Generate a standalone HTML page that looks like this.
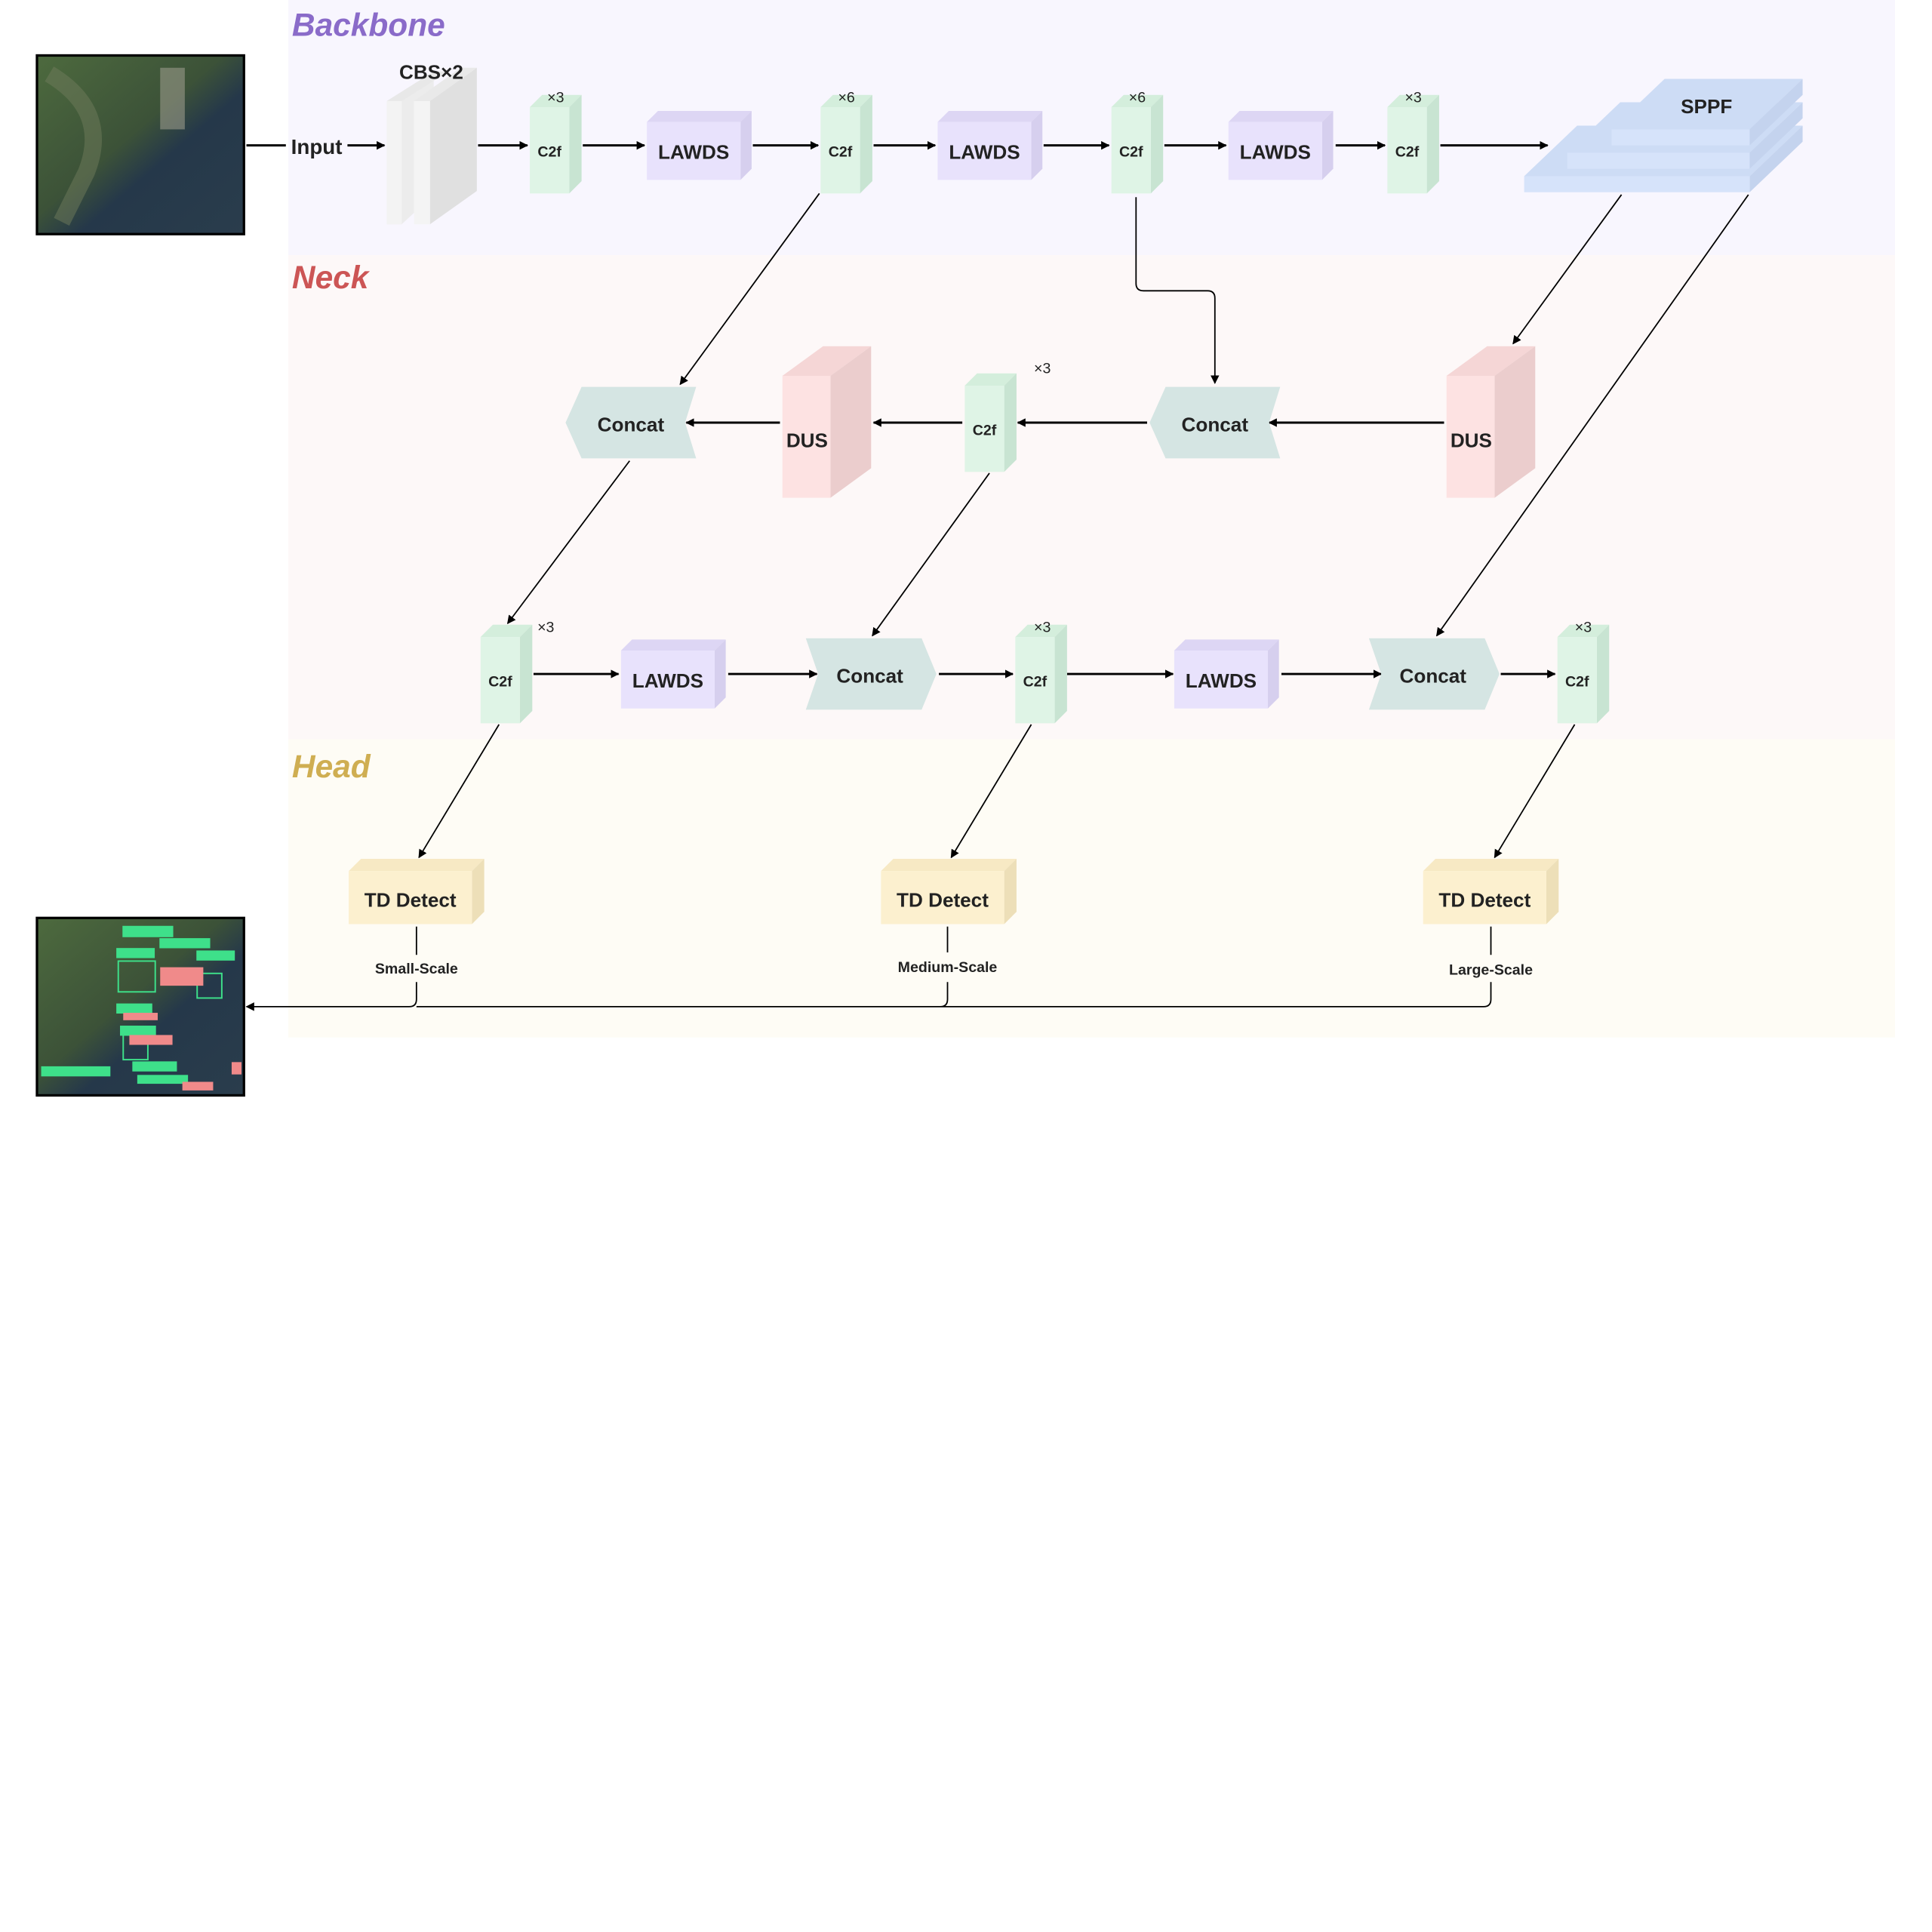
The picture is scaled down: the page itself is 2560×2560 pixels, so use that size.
<!DOCTYPE html>
<html><head><meta charset="utf-8"><style>html,body{margin:0;padding:0;background:#fff}svg{display:block}text{font-family:"Liberation Sans",sans-serif;font-weight:bold;fill:#222}</style></head>
<body>
<svg width="2560" height="2560" viewBox="0 0 1568 1568" xmlns="http://www.w3.org/2000/svg">
<defs>
<marker id="a" viewBox="0 0 10 10" refX="9" refY="5" markerWidth="7" markerHeight="7" orient="auto-start-reverse" markerUnits="userSpaceOnUse"><path d="M0,0L10,5L0,10z" fill="#000"/></marker>
<linearGradient id="img" x1="0" y1="0" x2="1" y2="1"><stop offset="0" stop-color="#4d6a3e"/><stop offset="0.45" stop-color="#3c5238"/><stop offset="0.6" stop-color="#25384a"/><stop offset="1" stop-color="#2a3d4c"/></linearGradient>
</defs>
<rect x="234" y="0" width="1304" height="207" fill="#f8f6fe"/>
<rect x="234" y="207" width="1304" height="393" fill="#fdf8f8"/>
<rect x="234" y="600" width="1304" height="242" fill="#fefcf5"/>
<text x="237" y="29" font-size="26" font-style="italic" style="fill:#8a6bc9">Backbone</text>
<text x="237" y="234" font-size="26" font-style="italic" style="fill:#cc5555">Neck</text>
<text x="237" y="631" font-size="26" font-style="italic" style="fill:#cfae52">Head</text>

<rect x="30" y="45" width="168" height="145" fill="url(#img)" stroke="#000" stroke-width="2"/>
<path d="M40,60 Q90,90 70,140 L50,180" stroke="#6f7c5c" stroke-width="14" fill="none" opacity="0.5"/>
<rect x="130" y="55" width="20" height="50" fill="#9a9a8a" opacity="0.6"/>
<rect x="30" y="745" width="168" height="144" fill="url(#img)" stroke="#000" stroke-width="2"/>
<g fill="none" stroke="#3ee08a" stroke-width="1.2">
<rect x="100" y="752" width="40" height="8" fill="#3ee08a"/><rect x="95" y="770" width="30" height="7" fill="#3ee08a"/><rect x="130" y="762" width="40" height="7" fill="#3ee08a"/><rect x="160" y="772" width="30" height="7" fill="#3ee08a"/><rect x="95" y="815" width="28" height="7" fill="#3ee08a"/><rect x="98" y="833" width="28" height="7" fill="#3ee08a"/><rect x="108" y="862" width="35" height="7" fill="#3ee08a"/><rect x="112" y="873" width="40" height="6" fill="#3ee08a"/><rect x="34" y="866" width="55" height="7" fill="#3ee08a"/>
<rect x="96" y="780" width="30" height="25"/><rect x="160" y="790" width="20" height="20"/><rect x="100" y="840" width="20" height="20"/></g>
<g fill="#f08a8a"><rect x="130" y="785" width="35" height="15"/><rect x="100" y="822" width="28" height="6"/><rect x="105" y="840" width="35" height="8"/><rect x="148" y="878" width="25" height="7"/><rect x="188" y="862" width="8" height="10"/></g>

<g fill="none" stroke="#000" stroke-width="1.8">
<line x1="200" y1="118" x2="232" y2="118"/>
<line x1="282" y1="118" x2="312" y2="118" marker-end="url(#a)"/>
<line x1="388" y1="118" x2="428" y2="118" marker-end="url(#a)"/>
<line x1="473" y1="118" x2="523" y2="118" marker-end="url(#a)"/>
<line x1="611" y1="118" x2="664" y2="118" marker-end="url(#a)"/>
<line x1="709" y1="118" x2="759" y2="118" marker-end="url(#a)"/>
<line x1="847" y1="118" x2="900" y2="118" marker-end="url(#a)"/>
<line x1="945" y1="118" x2="995" y2="118" marker-end="url(#a)"/>
<line x1="1084" y1="118" x2="1124" y2="118" marker-end="url(#a)"/>
<line x1="1169" y1="118" x2="1256" y2="118" marker-end="url(#a)"/>
<line x1="1172" y1="343" x2="1030" y2="343" marker-end="url(#a)"/>
<line x1="931" y1="343" x2="826" y2="343" marker-end="url(#a)"/>
<line x1="781" y1="343" x2="709" y2="343" marker-end="url(#a)"/>
<line x1="633" y1="343" x2="557" y2="343" marker-end="url(#a)"/>
<line x1="433" y1="547" x2="502" y2="547" marker-end="url(#a)"/>
<line x1="591" y1="547" x2="663" y2="547" marker-end="url(#a)"/>
<line x1="762" y1="547" x2="822" y2="547" marker-end="url(#a)"/>
<line x1="866" y1="547" x2="952" y2="547" marker-end="url(#a)"/>
<line x1="1040" y1="547" x2="1121" y2="547" marker-end="url(#a)"/>
<line x1="1218" y1="547" x2="1262" y2="547" marker-end="url(#a)"/>
</g>
<g fill="none" stroke="#000" stroke-width="1.1">
<line x1="665" y1="157" x2="552" y2="312" marker-end="url(#a)"/>
<path d="M922,160 V230 Q922,236 928,236 H980 Q986,236 986,242 V311" marker-end="url(#a)"/>
<line x1="1316" y1="158" x2="1228" y2="279" marker-end="url(#a)"/>
<line x1="1419" y1="158" x2="1166" y2="516" marker-end="url(#a)"/>
<line x1="511" y1="374" x2="412" y2="506" marker-end="url(#a)"/>
<line x1="803" y1="384" x2="708" y2="516" marker-end="url(#a)"/>
<line x1="405" y1="588" x2="340" y2="696" marker-end="url(#a)"/>
<line x1="837" y1="588" x2="772" y2="696" marker-end="url(#a)"/>
<line x1="1278" y1="588" x2="1213" y2="696" marker-end="url(#a)"/>
<path d="M338,752 V775 M338,797 V811 Q338,817 332,817 H200" marker-end="url(#a)"/>
<path d="M769,752 V773 M769,797 V811 Q769,817 763,817 M1210,752 V775 M1210,797 V811 Q1210,817 1204,817 H338"/>
</g>
<text x="257" y="125" font-size="17" text-anchor="middle">Input</text>

<g>
<polygon points="314,82 352,58 352,158 326,182 314,182" fill="#ececec"/>
<polygon points="314,82 326,82 364,58 352,58" fill="#e8e8e8"/>
<rect x="314" y="82" width="12" height="100" fill="#f3f3f3"/>
<polygon points="349,82 387,55 387,155 349,182" fill="#e0e0e0"/>
<polygon points="336,82 349,82 387,55 374,55" fill="#e9e9e9"/>
<rect x="336" y="82" width="13" height="100" fill="#f4f4f4"/>
</g>
<text x="350" y="64" font-size="16" text-anchor="middle">CBS×2</text>

<g>
<g transform="translate(430,87)"><polygon points="0,0 10,-10 42,-10 32,0" fill="#d4eedc"/><polygon points="32,0 42,-10 42,60 32,70" fill="#c8e4d2"/><rect width="32" height="70" fill="#dff4e6"/><text x="16" y="40" font-size="12" text-anchor="middle">C2f</text></g>
<g transform="translate(666,87)"><polygon points="0,0 10,-10 42,-10 32,0" fill="#d4eedc"/><polygon points="32,0 42,-10 42,60 32,70" fill="#c8e4d2"/><rect width="32" height="70" fill="#dff4e6"/><text x="16" y="40" font-size="12" text-anchor="middle">C2f</text></g>
<g transform="translate(902,87)"><polygon points="0,0 10,-10 42,-10 32,0" fill="#d4eedc"/><polygon points="32,0 42,-10 42,60 32,70" fill="#c8e4d2"/><rect width="32" height="70" fill="#dff4e6"/><text x="16" y="40" font-size="12" text-anchor="middle">C2f</text></g>
<g transform="translate(1126,87)"><polygon points="0,0 10,-10 42,-10 32,0" fill="#d4eedc"/><polygon points="32,0 42,-10 42,60 32,70" fill="#c8e4d2"/><rect width="32" height="70" fill="#dff4e6"/><text x="16" y="40" font-size="12" text-anchor="middle">C2f</text></g>
<g transform="translate(783,313)"><polygon points="0,0 10,-10 42,-10 32,0" fill="#d4eedc"/><polygon points="32,0 42,-10 42,60 32,70" fill="#c8e4d2"/><rect width="32" height="70" fill="#dff4e6"/><text x="16" y="40" font-size="12" text-anchor="middle">C2f</text></g>
<g transform="translate(390,517)"><polygon points="0,0 10,-10 42,-10 32,0" fill="#d4eedc"/><polygon points="32,0 42,-10 42,60 32,70" fill="#c8e4d2"/><rect width="32" height="70" fill="#dff4e6"/><text x="16" y="40" font-size="12" text-anchor="middle">C2f</text></g>
<g transform="translate(824,517)"><polygon points="0,0 10,-10 42,-10 32,0" fill="#d4eedc"/><polygon points="32,0 42,-10 42,60 32,70" fill="#c8e4d2"/><rect width="32" height="70" fill="#dff4e6"/><text x="16" y="40" font-size="12" text-anchor="middle">C2f</text></g>
<g transform="translate(1264,517)"><polygon points="0,0 10,-10 42,-10 32,0" fill="#d4eedc"/><polygon points="32,0 42,-10 42,60 32,70" fill="#c8e4d2"/><rect width="32" height="70" fill="#dff4e6"/><text x="16" y="40" font-size="12" text-anchor="middle">C2f</text></g>
</g>
<g>
<text x="451" y="83" font-size="12" text-anchor="middle" style="font-weight:normal">×3</text>
<text x="687" y="83" font-size="12" text-anchor="middle" style="font-weight:normal">×6</text>
<text x="923" y="83" font-size="12" text-anchor="middle" style="font-weight:normal">×6</text>
<text x="1147" y="83" font-size="12" text-anchor="middle" style="font-weight:normal">×3</text>
<text x="846" y="303" font-size="12" text-anchor="middle" style="font-weight:normal">×3</text>
<text x="443" y="513" font-size="12" text-anchor="middle" style="font-weight:normal">×3</text>
<text x="846" y="513" font-size="12" text-anchor="middle" style="font-weight:normal">×3</text>
<text x="1285" y="513" font-size="12" text-anchor="middle" style="font-weight:normal">×3</text>
</g>

<g transform="translate(525,99)"><polygon points="0,0 9,-9 85,-9 76,0" fill="#ddd6f4"/><polygon points="76,0 85,-9 85,38 76,47" fill="#d6cfee"/><rect width="76" height="47" fill="#e8e2fc"/><text x="38" y="30" font-size="16" text-anchor="middle">LAWDS</text></g>
<g transform="translate(761,99)"><polygon points="0,0 9,-9 85,-9 76,0" fill="#ddd6f4"/><polygon points="76,0 85,-9 85,38 76,47" fill="#d6cfee"/><rect width="76" height="47" fill="#e8e2fc"/><text x="38" y="30" font-size="16" text-anchor="middle">LAWDS</text></g>
<g transform="translate(997,99)"><polygon points="0,0 9,-9 85,-9 76,0" fill="#ddd6f4"/><polygon points="76,0 85,-9 85,38 76,47" fill="#d6cfee"/><rect width="76" height="47" fill="#e8e2fc"/><text x="38" y="30" font-size="16" text-anchor="middle">LAWDS</text></g>
<g transform="translate(504,528)"><polygon points="0,0 9,-9 85,-9 76,0" fill="#ddd6f4"/><polygon points="76,0 85,-9 85,38 76,47" fill="#d6cfee"/><rect width="76" height="47" fill="#e8e2fc"/><text x="38" y="30" font-size="16" text-anchor="middle">LAWDS</text></g>
<g transform="translate(953,528)"><polygon points="0,0 9,-9 85,-9 76,0" fill="#ddd6f4"/><polygon points="76,0 85,-9 85,38 76,47" fill="#d6cfee"/><rect width="76" height="47" fill="#e8e2fc"/><text x="38" y="30" font-size="16" text-anchor="middle">LAWDS</text></g>

<!-- SPPF plates -->
<polygon points="1237,143 1280,102 1463,102 1420,143" fill="#cddcf5"/>
<polygon points="1420,143 1463,102 1463,115 1420,156" fill="#c4d3ee"/>
<rect x="1237" y="143" width="183" height="13" fill="#d6e3fa"/>
<polygon points="1272,124 1315,83 1463,83 1420,124" fill="#cddcf5"/>
<polygon points="1420,124 1463,83 1463,96 1420,137" fill="#c4d3ee"/>
<rect x="1272" y="124" width="148" height="13" fill="#d6e3fa"/>
<polygon points="1308,105 1351,64 1463,64 1420,105" fill="#cddcf5"/>
<polygon points="1420,105 1463,64 1463,77 1420,118" fill="#c4d3ee"/>
<rect x="1308" y="105" width="112" height="13" fill="#d6e3fa"/>
<text x="1385" y="92" font-size="16" text-anchor="middle">SPPF</text>

<g transform="translate(635,305)"><polygon points="0,0 33,-24 72,-24 39,0" fill="#f5d6d6"/><polygon points="39,0 72,-24 72,75 39,99" fill="#ebcdcd"/><rect width="39" height="99" fill="#fde2e2"/><text x="20" y="58" font-size="16" text-anchor="middle">DUS</text></g>
<g transform="translate(1174,305)"><polygon points="0,0 33,-24 72,-24 39,0" fill="#f5d6d6"/><polygon points="39,0 72,-24 72,75 39,99" fill="#ebcdcd"/><rect width="39" height="99" fill="#fde2e2"/><text x="20" y="58" font-size="16" text-anchor="middle">DUS</text></g>

<polygon points="472,314 565,314 556,343 565,372 472,372 459,343" fill="#d5e5e3"/>
<text x="512" y="350" font-size="16" text-anchor="middle">Concat</text>
<polygon points="946,314 1039,314 1030,343 1039,372 946,372 933,343" fill="#d5e5e3"/>
<text x="986" y="350" font-size="16" text-anchor="middle">Concat</text>
<polygon points="654,518 748,518 760,547 748,576 654,576 664,547" fill="#d5e5e3"/>
<text x="706" y="554" font-size="16" text-anchor="middle">Concat</text>
<polygon points="1111,518 1205,518 1217,547 1205,576 1111,576 1121,547" fill="#d5e5e3"/>
<text x="1163" y="554" font-size="16" text-anchor="middle">Concat</text>

<g transform="translate(283,707)"><polygon points="0,0 10,-10 110,-10 100,0" fill="#f7e9c4"/><polygon points="100,0 110,-10 110,33 100,43" fill="#eddfb8"/><rect width="100" height="43" fill="#fcf0cf"/><text x="50" y="29" font-size="16" text-anchor="middle">TD Detect</text></g>
<g transform="translate(715,707)"><polygon points="0,0 10,-10 110,-10 100,0" fill="#f7e9c4"/><polygon points="100,0 110,-10 110,33 100,43" fill="#eddfb8"/><rect width="100" height="43" fill="#fcf0cf"/><text x="50" y="29" font-size="16" text-anchor="middle">TD Detect</text></g>
<g transform="translate(1155,707)"><polygon points="0,0 10,-10 110,-10 100,0" fill="#f7e9c4"/><polygon points="100,0 110,-10 110,33 100,43" fill="#eddfb8"/><rect width="100" height="43" fill="#fcf0cf"/><text x="50" y="29" font-size="16" text-anchor="middle">TD Detect</text></g>
<text x="338" y="790" font-size="12" text-anchor="middle">Small-Scale</text>
<text x="769" y="789" font-size="12" text-anchor="middle">Medium-Scale</text>
<text x="1210" y="791" font-size="12" text-anchor="middle">Large-Scale</text>
</svg>
</body></html>
